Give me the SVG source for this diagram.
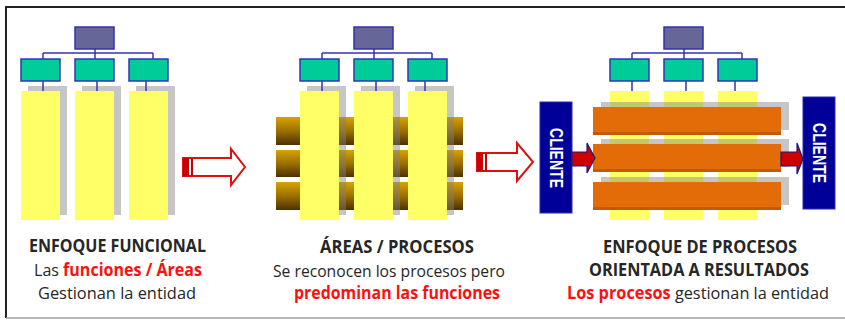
<svg xmlns="http://www.w3.org/2000/svg" xmlns:xlink="http://www.w3.org/1999/xlink" width="845" height="320" viewBox="0 0 845 320">
<style>
.top{fill:#666699;stroke:#3333aa;stroke-width:1.5}
.grn{fill:#00cc99;stroke:#3333bb;stroke-width:1.5}
.ln{stroke:#3333bb;stroke-width:1.5;fill:none}
.col{fill:#ffff66}
.shd{fill:#808080;fill-opacity:0.45}
.brown{fill:url(#bg)}
.orange{fill:#e36c09}
.oedge{fill:#c55a05}
.cli{fill:#000099;stroke:#2a2ab0;stroke-width:1}
.clit{font-family:"Liberation Sans",Arial,sans-serif;font-weight:bold;font-size:19px;fill:#ffffff}
.oarr{fill:#ffffff;stroke:#dd1111;stroke-width:2}
.red{fill:#cc0000}
.sarr{fill:#cc0000;stroke:#1a1a80;stroke-width:1.2}
.t{font-family:"Open Sans","Noto Sans",sans-serif;font-size:17px;fill:#262626}
.b{font-weight:bold}
.r{fill:#ff1010;font-weight:bold}
</style>
<defs>
<linearGradient id="bg" x1="0" y1="0" x2="0" y2="1">
<stop offset="0" stop-color="#d9a300"/>
<stop offset="0.5" stop-color="#9c6f00"/>
<stop offset="1" stop-color="#4a3100"/>
</linearGradient>
<g id="org">
<path class="ln" d="M-32,53 H78 M20,49 V53 M-32,53 V59 M20,53 V59 M78,53 V59 M-32,81 V91 M22,81 V91 M71,81 V91"/>
<rect class="top" x="0" y="27" width="39" height="22"/>
<rect class="grn" x="-54" y="59" width="39" height="22"/>
<rect class="grn" x="0" y="59" width="39" height="22"/>
<rect class="grn" x="54" y="59" width="39" height="22"/>
</g>
<g id="cols">
<rect class="col" x="-54" y="91" width="39" height="129"/>
<rect class="col" x="0" y="91" width="39" height="129"/>
<rect class="col" x="54" y="91" width="39" height="129"/>
</g>
<g id="shds">
<rect class="shd" x="-47" y="86" width="39" height="129"/>
<rect class="shd" x="7" y="86" width="39" height="129"/>
<rect class="shd" x="61" y="86" width="39" height="129"/>
</g>
</defs>
<rect x="0" y="0" width="845" height="320" fill="#ffffff"/>
<g id="frame">
<path d="M6,318 V7 H845" fill="none" stroke="#222222" stroke-width="2"/>
<path d="M6,318 H845" fill="none" stroke="#a0a0a0" stroke-width="1.5"/>
</g>

<g id="panel1">
<use xlink:href="#shds" x="75"/>
<use xlink:href="#cols" x="75"/>
<use xlink:href="#org" x="75"/>
</g>

<g id="panel2">
<rect class="brown" x="276" y="117" width="187" height="28"/>
<rect class="brown" x="276" y="150" width="187" height="27"/>
<rect class="brown" x="276" y="182" width="187" height="28"/>
<use xlink:href="#shds" x="354"/>
<use xlink:href="#cols" x="354"/>
<use xlink:href="#org" x="354"/>
</g>

<g id="panel3">
<use xlink:href="#cols" x="664"/>
<use xlink:href="#org" x="664"/>
<rect class="shd" x="601" y="102" width="188" height="28"/>
<rect class="shd" x="601" y="139" width="188" height="28"/>
<rect class="shd" x="601" y="177" width="188" height="28"/>
<rect class="orange" x="593" y="107" width="188" height="28"/>
<rect class="oedge" x="593" y="132" width="188" height="3"/>
<rect class="orange" x="593" y="144" width="188" height="28"/>
<rect class="oedge" x="593" y="169" width="188" height="3"/>
<rect class="orange" x="593" y="182" width="188" height="28"/>
<rect class="oedge" x="593" y="207" width="188" height="3"/>
</g>

<g id="cliente-left">
<rect class="cli" x="540" y="102" width="32" height="111"/>
<text class="clit" transform="translate(556,158) rotate(90)" text-anchor="middle" dominant-baseline="central" textLength="60" lengthAdjust="spacingAndGlyphs">CLIENTE</text>
</g>
<g id="cliente-right">
<rect class="cli" x="803" y="97" width="32" height="112"/>
<text class="clit" transform="translate(819,153) rotate(90)" text-anchor="middle" dominant-baseline="central" textLength="60" lengthAdjust="spacingAndGlyphs">CLIENTE</text>
</g>

<g id="connectors">
<path class="oarr" d="M183,158 H231 V149 L245,167 L231,185 V176 H183 Z"/>
<rect class="red" x="183" y="158" width="6" height="18"/>
<rect class="red" x="191" y="158" width="2" height="18"/>
<path class="oarr" d="M477,153 H517 V143 L533,162 L517,181 V171 H477 Z"/>
<rect class="red" x="477" y="153" width="6" height="18"/>
<rect class="red" x="485" y="153" width="2" height="18"/>
<path class="sarr" d="M572,152 H587 V143 L595,158 L587,173 V166 H572 Z"/>
<path class="sarr" d="M781,152 H797 V143 L803,159 L797,174 V166 H781 Z"/>
</g>

<g id="labels">
<text class="t b" x="29" y="252" textLength="177" lengthAdjust="spacingAndGlyphs">ENFOQUE FUNCIONAL</text>
<text class="t" x="34" y="276" textLength="168" lengthAdjust="spacingAndGlyphs">Las <tspan class="r">funciones / Áreas</tspan></text>
<text class="t" x="38" y="299" textLength="158" lengthAdjust="spacingAndGlyphs">Gestionan la entidad</text>
<text class="t b" x="320" y="253" textLength="154" lengthAdjust="spacingAndGlyphs">ÁREAS / PROCESOS</text>
<text class="t" x="273" y="277" textLength="232" lengthAdjust="spacingAndGlyphs">Se reconocen los procesos pero</text>
<text class="t r" x="294" y="299" textLength="206" lengthAdjust="spacingAndGlyphs">predominan las funciones</text>
<text class="t b" x="603" y="253" textLength="194" lengthAdjust="spacingAndGlyphs">ENFOQUE DE PROCESOS</text>
<text class="t b" x="589" y="276" textLength="220" lengthAdjust="spacingAndGlyphs">ORIENTADA A RESULTADOS</text>
<text class="t" x="567" y="299" textLength="262" lengthAdjust="spacingAndGlyphs"><tspan class="r">Los procesos</tspan> gestionan la entidad</text>
</g>
</svg>
